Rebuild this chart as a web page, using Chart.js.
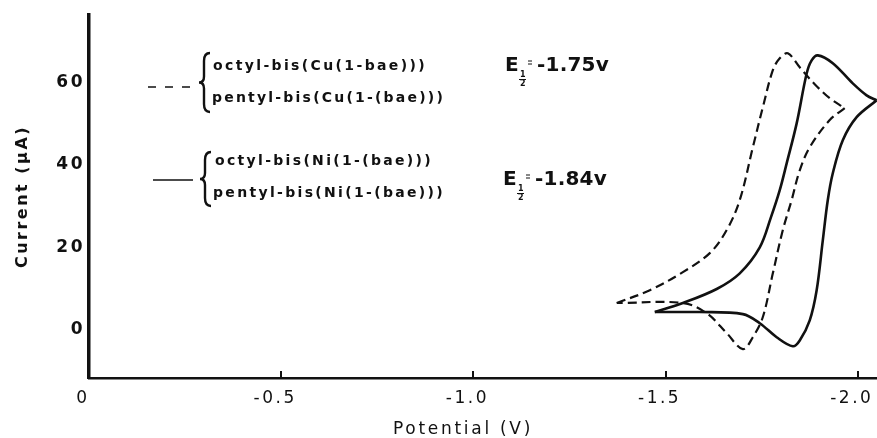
<!DOCTYPE html>
<html>
<head>
<meta charset="utf-8">
<script src="https://cdn.jsdelivr.net/npm/chart.js@4.4.1/dist/chart.umd.min.js"></script>
<style>
  html, body { margin: 0; padding: 0; background: #fff; }
  canvas { display: block; }
</style>
</head>
<body>
<canvas id="cv" width="877" height="438"></canvas>
<script>
// ── values ──
const xTicks = [0, -0.5, -1.0, -1.5, -2.0];
const xTickLabels = ['0', '-0.5', '-1.0', '-1.5', '-2.0'];
const yTicks = [0, 20, 40, 60];

// Cu complexes (dashed): cathodic sweep, then the return sweep
const cuFwdV = [-1.373, -1.459, -1.545, -1.615, -1.659, -1.693, -1.727, -1.753, -1.779, -1.797, -1.818, -1.849, -1.888, -1.927, -1.966];
const cuFwdI = [6.5, 9.6, 14.0, 18.6, 24.2, 31.5, 44.3, 54.0, 63.0, 65.9, 67.1, 63.7, 59.6, 56.2, 53.8];
const cuRetV = [-1.966, -1.927, -1.875, -1.849, -1.828, -1.805, -1.779, -1.753, -1.727, -1.701, -1.659, -1.607, -1.545, -1.373];
const cuRetI = [53.8, 50.9, 44.3, 38.7, 31.5, 24.2, 13.7, 3.1, -1.8, -4.7, -0.8, 4.0, 6.5, 6.5];

// Ni complexes (solid)
const niFwdV = [-1.472, -1.545, -1.633, -1.693, -1.745, -1.774, -1.797, -1.815, -1.841, -1.867, -1.880, -1.896, -1.935, -1.987, -2.023, -2.049];
const niFwdI = [4.3, 6.5, 9.9, 13.7, 20.0, 27.3, 33.9, 40.4, 50.1, 62.2, 65.4, 66.6, 64.7, 59.8, 56.9, 55.7];
const niRetV = [-2.049, -1.997, -1.961, -1.935, -1.922, -1.909, -1.893, -1.875, -1.849, -1.831, -1.789, -1.745, -1.701, -1.589, -1.472];
const niRetI = [55.7, 51.6, 46.0, 38.0, 31.5, 21.7, 9.6, 2.3, -2.6, -4.0, -1.8, 1.6, 3.8, 4.3, 4.3];

const cuLabels = ['octyl-bis(Cu(1-bae)))', 'pentyl-bis(Cu(1-(bae)))'];
const niLabels = ['octyl-bis(Ni(1-(bae)))', 'pentyl-bis(Ni(1-(bae)))'];
const halfWave = ['-1.75v', '-1.84v'];

const ink = '#111';
const pts = (V, I) => V.map((v, i) => ({ x: v, y: I[i] }));

Chart.defaults.font.family = '"DejaVu Sans", sans-serif';
Chart.defaults.color = ink;

// text drawn with a given letter spacing so it fills a target width
function spaced(ctx, text, x, y, width, font) {
  ctx.font = font;
  ctx.letterSpacing = '0px';
  const w = ctx.measureText(text).width;
  ctx.letterSpacing = Math.max(0, (width - w) / text.length) + 'px';
  ctx.textAlign = 'left';
  ctx.textBaseline = 'middle';
  ctx.fillText(text, x, y);
}

function brace(ctx, x, top, bot) {
  const mid = (top + bot) / 2;
  ctx.beginPath();
  ctx.moveTo(x + 10, top);
  ctx.quadraticCurveTo(x + 4, top, x + 4, top + 8);
  ctx.lineTo(x + 4, mid - 6);
  ctx.quadraticCurveTo(x + 4, mid, x - 1, mid);
  ctx.quadraticCurveTo(x + 4, mid, x + 4, mid + 6);
  ctx.lineTo(x + 4, bot - 8);
  ctx.quadraticCurveTo(x + 4, bot, x + 10, bot);
  ctx.stroke();
}

function halfWaveLabel(ctx, x, y, value) {
  ctx.letterSpacing = '0px';
  ctx.textAlign = 'left';
  ctx.textBaseline = 'middle';
  ctx.font = 'bold 20px "DejaVu Sans"';
  ctx.fillText('E', x, y);
  ctx.font = 'bold 8px "DejaVu Sans"';
  ctx.fillText('1', x + 15, y + 9);
  ctx.fillText('2', x + 15, y + 18);
  ctx.lineWidth = 1;
  ctx.beginPath();
  ctx.moveTo(x + 14, y + 13.5); ctx.lineTo(x + 21, y + 13.5);
  ctx.moveTo(x + 23, y - 5); ctx.lineTo(x + 27, y - 5);
  ctx.moveTo(x + 23, y - 2); ctx.lineTo(x + 27, y - 2);
  ctx.stroke();
  spaced(ctx, value, x + 32, y, 72, 'bold 20px "DejaVu Sans"');
}

const figureText = {
  id: 'figureText',
  beforeDraw(chart) { chart.ctx.letterSpacing = '2.5px'; },
  afterDraw(chart) {
    const ctx = chart.ctx;
    const xs = chart.scales.x;
    const bottom = chart.chartArea.bottom;
    ctx.save();
    ctx.strokeStyle = ink;
    ctx.fillStyle = ink;

    // inward tick marks on the potential axis
    ctx.lineWidth = 2;
    xTicks.slice(1).forEach(v => {
      const px = Math.round(xs.getPixelForValue(v));
      ctx.beginPath();
      ctx.moveTo(px, bottom);
      ctx.lineTo(px, bottom - 7);
      ctx.stroke();
    });

    // key: line samples + braces
    ctx.lineWidth = 1.6;
    ctx.setLineDash([8, 9]);
    ctx.beginPath(); ctx.moveTo(148, 87); ctx.lineTo(192, 87); ctx.stroke();
    ctx.setLineDash([]);
    ctx.beginPath(); ctx.moveTo(153, 180); ctx.lineTo(193, 180); ctx.stroke();
    ctx.lineWidth = 2.4;
    brace(ctx, 200, 53, 112);
    brace(ctx, 201, 152, 206);

    const f = 'bold 14px "DejaVu Sans"';
    spaced(ctx, cuLabels[0], 213, 66, 214, f);
    spaced(ctx, cuLabels[1], 212, 98, 233, f);
    spaced(ctx, niLabels[0], 215, 161, 218, f);
    spaced(ctx, niLabels[1], 213, 193, 232, f);

    halfWaveLabel(ctx, 505, 66, halfWave[0]);
    halfWaveLabel(ctx, 503, 180, halfWave[1]);

    // potential axis title
    spaced(ctx, 'Potential (V)', 393, 430, 140, '17px "DejaVu Sans"');
    ctx.restore();
  }
};

const line = (data, dash, width) => ({
  data, showLine: true, borderColor: ink, borderWidth: width, borderDash: dash,
  pointRadius: 0, tension: 0.35, fill: false
});

new Chart(document.getElementById('cv'), {
  type: 'scatter',
  data: {
    datasets: [
      line(pts(cuFwdV, cuFwdI), [9, 5], 2.2),
      line(pts(cuRetV, cuRetI), [9, 5], 2.2),
      line(pts(niFwdV, niFwdI), [], 2.6),
      line(pts(niRetV, niRetI), [], 2.6),
    ]
  },
  options: {
    responsive: false, animation: false,
    layout: { padding: { top: 15, right: 0, left: 0, bottom: 0 } },
    plugins: { legend: { display: false }, tooltip: { enabled: false } },
    scales: {
      x: {
        type: 'linear', min: -2.05, max: 0, reverse: true,
        afterBuildTicks: s => { s.ticks = xTicks.map(v => ({ value: v })); },
        afterFit: s => { s.height = 60; s.paddingLeft = 0; s.paddingRight = 0; },
        ticks: { font: { size: 17 }, padding: 10, labelOffset: -6, maxRotation: 0,
                 callback: (v, i) => xTickLabels[i] },
        grid: { display: false, drawTicks: false },
        border: { color: ink, width: 2.5 }
      },
      y: {
        min: -11.7, max: 76.4,
        afterBuildTicks: s => { s.ticks = yTicks.map(v => ({ value: v })); },
        afterFit: s => { s.width = 89; s.paddingTop = 0; s.paddingBottom = 0; },
        ticks: { font: { size: 17, weight: 'bold' }, padding: 4, callback: v => String(v) },
        grid: { display: false, drawTicks: false },
        border: { color: ink, width: 3.5 },
        title: { display: true, text: 'Current (μA)', font: { size: 16, weight: 'bold', lineHeight: 1 },
                 padding: { top: 15, bottom: 0 } }
      }
    }
  },
  plugins: [figureText]
});
</script>
</body>
</html>
